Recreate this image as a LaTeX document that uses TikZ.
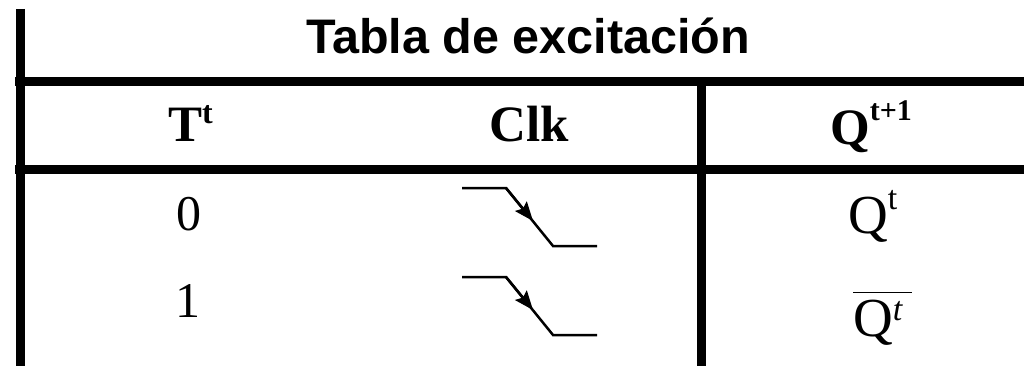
\documentclass[tikz,border=0pt]{standalone}
\usepackage{fontspec}
\setmainfont{Liberation Serif}
\newfontfamily\titlefont{Liberation Sans}
\usetikzlibrary{arrows.meta}
\usetikzlibrary{positioning}
\newcommand{\upidx}[3]{\raisebox{#1}{\fontsize{#2}{#2}\selectfont #3}}

\begin{document}
\begin{tikzpicture}[
                x = 1pt, y = -1pt,
                rule/.style = {line width = 9pt},
                edge/.style = {line width = 2.5pt},
                every node/.style = {inner sep = 0pt, anchor = base},
                title/.style = {font = \titlefont\bfseries\fontsize{48.5}{60}\selectfont},
                head/.style = {font = \bfseries\fontsize{51}{60}\selectfont},
                cell/.style = {font = \fontsize{50}{60}\selectfont},
                qcell/.style = {font = \fontsize{55}{60}\selectfont, anchor = base west}
                ]
              \useasboundingbox (0,0) rectangle (1024,366);

              % Rules of the table
              \draw[rule] (20,9) -- (20,366);
              \draw[rule] (15,81.5) -- (1024,81.5);
              \draw[rule] (15,169.5) -- (1024,169.5);
              \draw[rule] (701,86) -- (701,366);

              % Title and heads
              \node[title] (title) at (528,54) {Tabla de excitación};
              \node[head, anchor = base west] (headT) at (168,142) {T\upidx{18pt}{32}{t}};
              \node[head] (headClk) at (529,142) {Clk};
              \node[head, anchor = base west] (headQ) at (830,145) {Q\upidx{24pt}{30}{t+1}};

              % Rows
              \node[cell] (rowA) at (189,230) {0};
              \node[cell] (rowB) at (188,317) {1};
              \node[qcell] (qA) at (848,233) {Q\upidx{24pt}{34}{t}};
              \node[qcell] (qB) at (853,336)
                {$\overline{\hbox{\rule{0pt}{42pt}Q\upidx{16pt}{34}{\itshape t}\,}}$};

              % Falling edges
              \foreach \dy in {0,89} {
                \draw[edge] (462,188+\dy) -- (506,188+\dy) -- (553,246+\dy) -- (597,246+\dy);
                \draw[edge, -{Stealth[length = 19pt, width = 15pt, inset = 3pt]}]
                  (506,188+\dy) -- (533,221+\dy);
              }
            \end{tikzpicture}
\end{document}
